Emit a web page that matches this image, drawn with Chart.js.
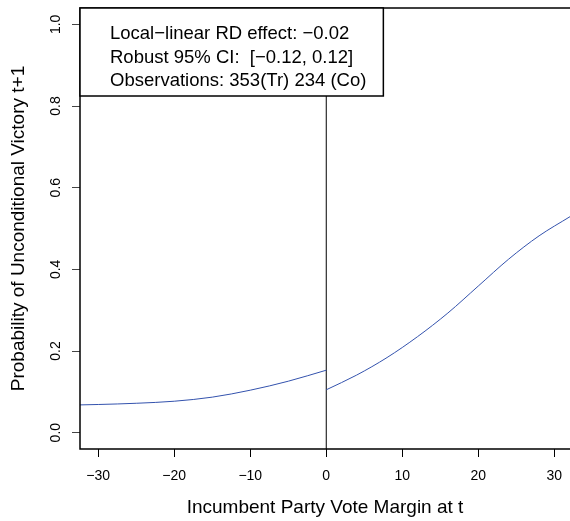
<!DOCTYPE html>
<html>
<head>
<meta charset="utf-8">
<script src="https://cdn.jsdelivr.net/npm/chart.js@4.4.0/dist/chart.umd.min.js"></script>
<style>
  html, body { margin: 0; padding: 0; background: #fff; }
  #wrap { width: 570px; height: 521px; }
</style>
</head>
<body>
<div id="wrap"><canvas id="grafico"></canvas></div>
<script>
// ---- DADOS ----
const margemEsq = [-32.4, -30, -25, -20, -15, -10, -5, 0];
const probEsq = [0.068, 0.069, 0.072, 0.077, 0.087, 0.104, 0.126, 0.153];
const margemDir = [0, 4, 8, 12, 16, 20, 24, 28, 32.07];
const probDir = [0.105, 0.141, 0.184, 0.235, 0.293, 0.359, 0.425, 0.482, 0.529];
const ticksX = [-30, -20, -10, 0, 10, 20, 30];
const ticksY = [0, 0.2, 0.4, 0.6, 0.8, 1.0];
const textoLegenda = [
    "Local\u2212linear RD effect: \u22120.02",
    "Robust 95% CI:  [\u22120.12, 0.12]",
    "Observations: 353(Tr) 234 (Co)"
];

const fonte = "'Liberation Sans', Arial, Helvetica, sans-serif";
const menos = s => String(s).replace(/-/g, "\u2212");

// moldura do gráfico (topo, esquerda, baixo) + caixa da legenda
const moldura = {
    id: "moldura",
    afterDatasetsDraw(chart) {
        const { ctx, chartArea: a } = chart;
        ctx.save();
        ctx.strokeStyle = "#000";
        ctx.lineWidth = 1.5;
        ctx.beginPath();
        ctx.moveTo(chart.width + 2, a.top);
        ctx.lineTo(a.left, a.top);
        ctx.lineTo(a.left, a.bottom);
        ctx.lineTo(chart.width + 2, a.bottom);
        ctx.stroke();

        // legenda
        ctx.font = "18.5px " + fonte;
        const larg = Math.max(...textoLegenda.map(t => ctx.measureText(t).width));
        const x0 = a.left + 30;
        const direita = x0 + larg + 17;
        const base = a.top + 88;
        ctx.fillStyle = "#fff";
        ctx.fillRect(a.left, a.top, direita - a.left, base - a.top);
        ctx.lineWidth = 1.5;
        ctx.strokeRect(a.left, a.top, direita - a.left, base - a.top);
        ctx.fillStyle = "#000";
        ctx.textBaseline = "middle";
        textoLegenda.forEach((t, i) => ctx.fillText(t, x0, a.top + 26 + i * 23.6));
        ctx.restore();
    }
};

const ctx = document.getElementById("grafico").getContext("2d");
new Chart(ctx, {
    type: "scatter",
    data: {
        datasets: [
            {
                data: margemEsq.map((x, i) => ({ x: x, y: probEsq[i] })),
                showLine: true,
                borderColor: "#3352ad",
                borderWidth: 1,
                pointRadius: 0,
                cubicInterpolationMode: "monotone"
            },
            {
                data: margemDir.map((x, i) => ({ x: x, y: probDir[i] })),
                showLine: true,
                borderColor: "#3352ad",
                borderWidth: 1,
                pointRadius: 0,
                cubicInterpolationMode: "monotone"
            },
            {
                data: [{ x: 0, y: -0.04 }, { x: 0, y: 1.04 }],
                showLine: true,
                borderColor: "#000",
                borderWidth: 1,
                pointRadius: 0
            }
        ]
    },
    options: {
        responsive: true,
        maintainAspectRatio: false,
        animation: false,
        layout: { padding: { top: 8, right: 0, left: 0, bottom: 0 } },
        plugins: { legend: { display: false }, tooltip: { enabled: false } },
        scales: {
            x: {
                type: "linear",
                min: -32.4,
                max: 32.07,
                afterBuildTicks: s => { s.ticks = ticksX.map(v => ({ value: v })); },
                afterFit: s => { s.height = 72; s.paddingLeft = 0; s.paddingRight = 0; },
                border: { display: false },
                grid: { drawOnChartArea: false, color: "#000", tickLength: 8, lineWidth: 1 },
                ticks: {
                    color: "#000",
                    padding: 11,
                    maxRotation: 0,
                    font: { family: fonte, size: 14 },
                    callback: v => menos(v)
                },
                title: {
                    display: true,
                    text: "Incumbent Party Vote Margin at t",
                    color: "#000",
                    font: { family: fonte, size: 19 },
                    padding: { top: 0, bottom: 2 }
                }
            },
            y: {
                min: -0.04,
                max: 1.04,
                afterBuildTicks: s => { s.ticks = ticksY.map(v => ({ value: v })); },
                afterFit: s => { s.width = 80; s.paddingTop = 0; s.paddingBottom = 0; },
                border: { display: false },
                grid: { drawOnChartArea: false, color: "#444", tickLength: 8, lineWidth: 1 },
                ticks: {
                    color: "#000",
                    padding: 6,
                    minRotation: 90,
                    maxRotation: 90,
                    crossAlign: "center",
                    font: { family: fonte, size: 14 },
                    callback: v => Number(v).toFixed(1)
                },
                title: {
                    display: true,
                    text: "Probability of Unconditional Victory t+1",
                    color: "#000",
                    font: { family: fonte, size: 19 },
                    padding: { top: 7, bottom: 0 }
                }
            }
        }
    },
    plugins: [moldura]
});
</script>
</body>
</html>
